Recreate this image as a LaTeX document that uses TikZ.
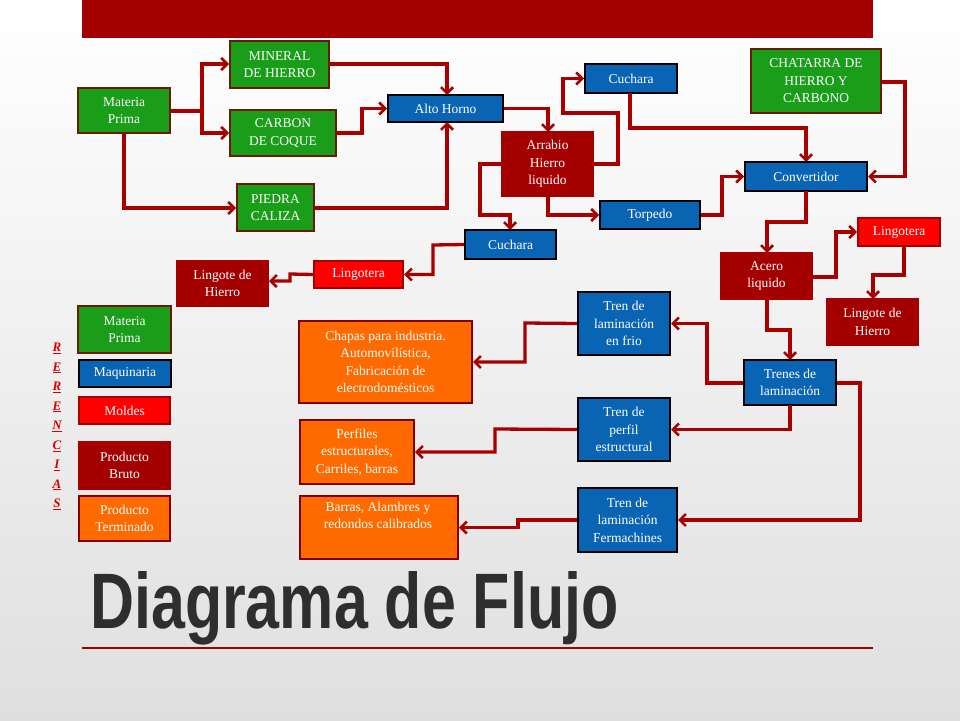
\documentclass[tikz,border=0pt]{standalone}
\usepackage{fontspec}
\setmainfont{Liberation Serif}
\newfontfamily\titlefont{Liberation Sans}
\usetikzlibrary{arrows.meta}
\definecolor{bgreen}{HTML}{1A9E1A}
\definecolor{gborder}{HTML}{6B1A0A}
\definecolor{bblue}{HTML}{0A64B4}
\definecolor{dred}{HTML}{A50000}
\definecolor{bred}{HTML}{FF0000}
\definecolor{borange}{HTML}{FF6A00}
\definecolor{arrowc}{HTML}{A80000}
\newcommand{\bx}[7]{\node[#2,minimum width={#5-#3},minimum height={#6-#4}] (#1) at ({(#3+#5)/2},{(#4+#6)/2}) {#7};}
\tikzset{
 base/.style={inner sep=0pt,align=center,text=white,font=\fontsize{13.5}{17.5}\selectfont,line width=2pt},
 green/.style={base,fill=bgreen,draw=gborder},
 blue/.style={base,fill=bblue,draw=black},
 dark/.style={base,fill=dred,draw=dred},
 redb/.style={base,fill=bred,draw=dred},
 orange/.style={base,fill=borange,draw=dred!80!black},
 con/.style={draw=arrowc,line width=3.3pt,-{Straight Barb[length=6pt,width=12pt,line width=2.6pt]}},
}
\begin{document}
\begin{tikzpicture}[x=1pt,y=-1pt]
\shade[top color=white,bottom color=gray!25] (0,0) rectangle (960,720);
\useasboundingbox (0,0) rectangle (960,720);
\fill[dred] (82,0) rectangle (873,38);
\draw[dred,line width=2pt] (82,648) -- (873,648);
\node[anchor=base west,inner sep=0pt,text=black!82] (title) at (90,628)
 {\resizebox{528pt}{57pt}{\titlefont\bfseries Diagrama de Flujo}};
% nodes
\bx{mp}{green}{78}{88}{170}{133}{Materia\\Prima}
\bx{min}{green}{230}{41}{329}{88}{MINERAL\\DE HIERRO}
\bx{car}{green}{230}{110}{336}{156}{CARBON\\DE COQUE}
\bx{pie}{green}{237}{184}{314}{231}{PIEDRA\\CALIZA}
\bx{alto}{blue}{388}{95}{503}{122}{Alto Horno}
\bx{arr}{dark}{502}{132}{593}{196}{Arrabio\\Hierro\\liquido}
\bx{cu1}{blue}{585}{64}{677}{93}{Cuchara}
\bx{cha}{green}{751}{49}{881}{113}{CHATARRA DE\\HIERRO Y\\CARBONO}
\bx{conv}{blue}{745}{162}{867}{191}{Convertidor}
\bx{tor}{blue}{600}{201}{700}{229}{Torpedo}
\bx{cu2}{blue}{465}{230}{556}{259}{Cuchara}
\bx{lg1}{redb}{314}{261}{403}{288}{Lingotera}
\bx{li1}{dark}{177}{261}{268}{306}{Lingote de\\Hierro}
\bx{ace}{dark}{721}{253}{812}{299}{Acero\\liquido}
\bx{lg2}{redb}{858}{218}{940}{246}{Lingotera}
\bx{li2}{dark}{827}{299}{918}{345}{Lingote de\\Hierro}
\bx{tf}{blue}{578}{292}{670}{355}{Tren de\\laminación\\en frio}
\bx{tl}{blue}{744}{360}{836}{405}{Trenes de\\laminación}
\bx{tp}{blue}{578}{398}{670}{461}{Tren de\\perfil\\estructural}
\bx{tfe}{blue}{578}{488}{677}{552}{Tren de\\laminación\\Fermachines}
\bx{chp}{orange}{299}{321}{472}{403}{Chapas para industria.\\Automovilística,\\Fabricación de\\electrodomésticos}
\node[orange,minimum width=114,minimum height=64,anchor=north west,align=center] (per) at (299,419) {Perfiles\\estructurales,\\Carriles, barras};
\node[orange,minimum width=158,minimum height=63,anchor=north west] (bar) at (299,495) {};
\node[base,anchor=north] at (378,501) {Barras, Alambres y\\redondos calibrados};
% legend
\bx{r1}{green}{78}{306}{171}{353}{Materia\\Prima}
\bx{r2}{blue}{79}{360}{171}{387}{Maquinaria}
\bx{r3}{redb}{79}{397}{170}{424}{Moldes}
\bx{r4}{dark}{79}{442}{170}{489}{Producto\\Bruto}
\bx{r5}{orange}{79}{496}{170}{541}{Producto\\Terminado}
\node[text=bred!85!black,font=\fontsize{13}{19.5}\selectfont\bfseries\itshape,align=center,inner sep=0pt,anchor=north] (refs) at (57,343)
 {\underline{R}\\\underline{E}\\\underline{R}\\\underline{E}\\\underline{N}\\\underline{C}\\\underline{I}\\\underline{A}\\\underline{S}};
% connectors
\draw[con] (mp.east|-0,111) -- (202,111) |- (min.west|-0,64);
\draw[con] (202,111) |- (car.west|-0,133);
\draw[con] (124,133) |- (pie.west|-0,208);
\draw[con] (min.east|-0,64) -| (447,95);
\draw[con] (car.east|-0,133) -- (362,133) |- (alto.west);
\draw[con] (pie.east|-0,208) -| (447,122);
\draw[con] (alto.east) -| (548,132);
\draw[con] (arr.east) -- (618,164) |- (563,113) |- (cu1.west);
\draw[con] (arr.west) -- (480,164) |- (510,215) -- (510,230);
\draw[con] (548,196) |- (tor.west);
\draw[con] (630,93) |- (806,128) -- (806,162);
\draw[con] (tor.east) -- (722,215) |- (conv.west);
\draw[con] (cha.east|-0,82) -- (905,82) |- (conv.east);
\draw[con] (806,191) |- (767,222) -- (767,253);
\draw[con] (ace.east|-0,277) -- (836,277) |- (lg2.west);
\draw[con] (904,246) |- (873,275) -- (873,299);
\draw[con] (767,299) |- (790,330) -- (790,360);
\draw[con] (tl.west|-0,383) -- (707,383) |- (tf.east);
\draw[con] (790,405) |- (tp.east);
\draw[con] (tl.east|-0,383) -- (860,383) |- (tfe.east|-0,520);
\draw[con] (tf.west) -- (525,323) |- (chp.east);
\draw[con] (tp.west) -- (495,429) |- (per.east);
\draw[con] (tfe.west|-0,520) -- (518,520) |- (bar.east);
\draw[con] (cu2.west) -- (433,245) |- (lg1.east);
\draw[con] (lg1.west) -- (290,274) |- (li1.east|-0,281);
\end{tikzpicture}
\end{document}
